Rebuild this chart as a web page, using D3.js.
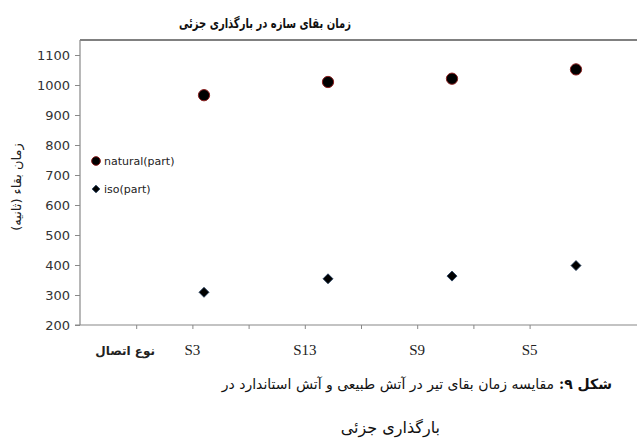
<!DOCTYPE html>
<html><head><meta charset="utf-8">
<script src="https://cdn.jsdelivr.net/npm/d3@7"></script>
<style>body{margin:0;background:#fff}svg{display:block}</style>
</head><body>
<svg id="c" width="637" height="445"></svg>
<script>
const categories = ["S3", "S13", "S9", "S5"];
const naturalPart = [966, 1010, 1021, 1052];
const isoPart = [309, 354, 363, 398];
const yTicks = [200, 300, 400, 500, 600, 700, 800, 900, 1000, 1100];
const axisLabelX = ["نوع اتصال", "S3", "", "S13", "", "S9", "", "S5"];
const title = "زمان بقای سازه در بارگذاری جزئی";
const yTitle = "زمان بقاء (ثانیه)";
const seriesNames = ["natural(part)", "iso(part)"];
const caption1 = "مقایسه زمان بقای تیر در آتش طبیعی و آتش استاندارد در";
const caption2 = "بارگذاری جزئی";

const svg = d3.select("#c");
const L = 80, R = 637, T = 40, B = 325;
const font = "Tahoma, 'DejaVu Sans', sans-serif";

const y = d3.scaleLinear().domain([200, 1100]).range([B, 55]);
const xPts = d3.scaleLinear().domain([0, 1]).range([L, L + 124]);
const xTick = d3.scaleLinear().domain([0, 1]).range([L, L + 56.2]);

// frame top
svg.append("line").attr("x1", L).attr("x2", R).attr("y1", T).attr("y2", T)
  .attr("stroke", "#808080").attr("stroke-width", 2);

// y axis
const ya = svg.append("g").attr("transform", `translate(${L},0)`)
  .call(d3.axisLeft(y).tickValues(yTicks).tickSize(5).tickPadding(5).tickFormat(d3.format("d")));
ya.select(".domain").attr("d", `M0,${T}V${B}`).attr("stroke", "#888").attr("stroke-width", 1.2);
ya.selectAll(".tick line").attr("stroke", "#888");
ya.selectAll(".tick text").attr("font-family", font).attr("font-size", 13).attr("fill", "#333");

// x axis
const xa = svg.append("g").attr("transform", `translate(0,${B})`)
  .call(d3.axisBottom(xTick).tickValues(d3.range(1, 9)).tickSize(4).tickFormat(""));
xa.select(".domain").attr("d", `M${L - 5},0H${R}`).attr("stroke", "#888").attr("stroke-width", 1.2);
xa.selectAll(".tick line").attr("stroke", "#888");

svg.append("g").selectAll("text").data(axisLabelX).join("text")
  .attr("x", (d, i) => xTick(i + 1) - (i === 0 ? 11 : 0))
  .attr("y", 355)
  .attr("text-anchor", "middle")
  .attr("font-family", (d, i) => i === 0 ? font : "'Liberation Serif', serif")
  .attr("font-size", (d, i) => i === 0 ? 12 : 15)
  .attr("font-weight", (d, i) => i === 0 ? "bold" : "normal")
  .attr("fill", "#222")
  .text(d => d);

// data
svg.append("g").selectAll("path").data(naturalPart).join("path")
  .attr("transform", (d, i) => `translate(${xPts(i + 1)},${y(d)})`)
  .attr("d", d3.symbol(d3.symbolCircle, 100))
  .attr("fill", "#000").attr("stroke", "#8b2020").attr("stroke-width", 1);
svg.append("g").selectAll("path").data(isoPart).join("path")
  .attr("transform", (d, i) => `translate(${xPts(i + 1)},${y(d)}) rotate(45)`)
  .attr("d", d3.symbol(d3.symbolSquare, 50))
  .attr("fill", "#000").attr("stroke", "#1f3a5a").attr("stroke-width", 0.8);

// legend
const lg = svg.append("g");
lg.append("path").attr("transform", "translate(96,161)")
  .attr("d", d3.symbol(d3.symbolCircle, 60))
  .attr("fill", "#000").attr("stroke", "#8b2020").attr("stroke-width", 1);
lg.append("path").attr("transform", "translate(96,189) rotate(45)")
  .attr("d", d3.symbol(d3.symbolSquare, 30))
  .attr("fill", "#000").attr("stroke", "#1f3a5a").attr("stroke-width", 0.8);
lg.selectAll("text").data(seriesNames).join("text")
  .attr("x", 104).attr("y", (d, i) => 165 + i * 28)
  .attr("font-family", font).attr("font-size", 11).attr("fill", "#222")
  .text(d => d);

// title
svg.append("text").attr("x", 265).attr("y", 28).attr("text-anchor", "middle")
  .attr("font-family", font).attr("font-size", 13.5).attr("font-weight", "bold")
  .attr("textLength", 172).attr("lengthAdjust", "spacingAndGlyphs")
  .attr("fill", "#111").text(title);

// y title
svg.append("text").attr("transform", "translate(21,187) rotate(-90)")
  .attr("text-anchor", "middle").attr("direction", "rtl")
  .attr("font-family", font).attr("font-size", 13).attr("fill", "#222").text(yTitle);

// caption
const cap = svg.append("text").attr("x", 612).attr("y", 389).attr("text-anchor", "start")
  .attr("direction", "rtl").attr("font-family", "'DejaVu Serif', 'DejaVu Sans', serif")
  .attr("font-size", 14).attr("fill", "#111");
cap.append("tspan").attr("font-weight", "bold").text("شکل ۹: ");
cap.append("tspan").text(caption1);
svg.append("text").attr("x", 440).attr("y", 433).attr("text-anchor", "start")
  .attr("direction", "rtl").attr("font-family", "'DejaVu Serif', 'DejaVu Sans', serif")
  .attr("font-size", 16).attr("fill", "#111").text(caption2);
</script>
</body></html>
